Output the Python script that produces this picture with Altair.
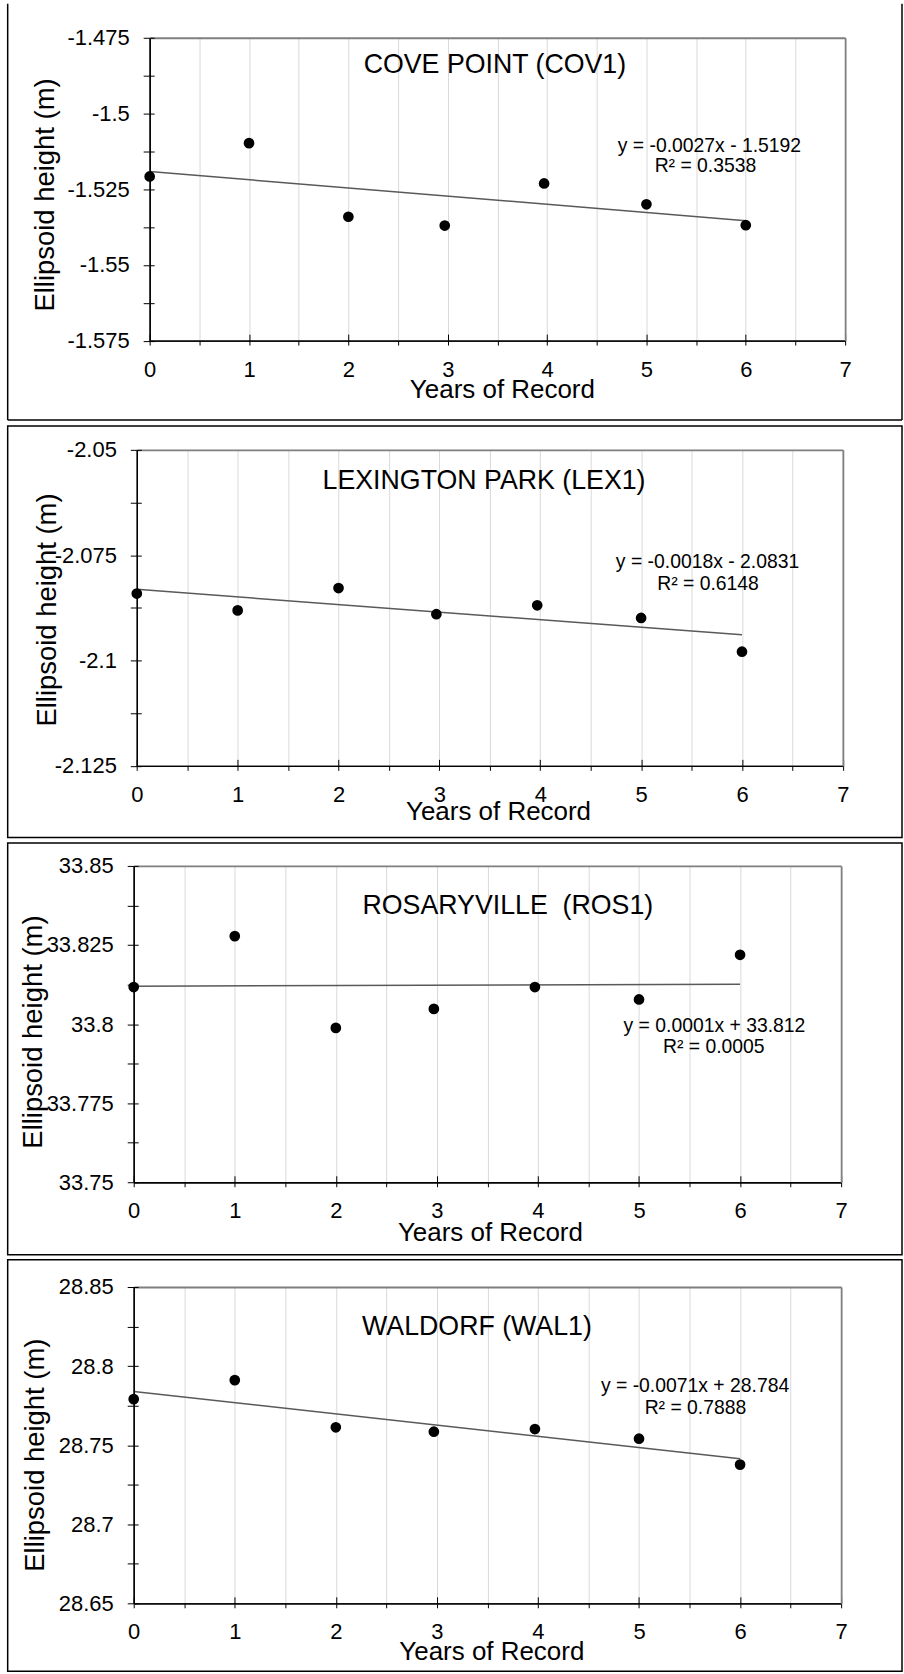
import altair as alt
import pandas as pd

# ---------------- data ----------------
years = [0, 1, 2, 2.97, 3.97, 5, 6]
station_names = ["COVE POINT (COV1)", "LEXINGTON PARK (LEX1)",
                 "ROSARYVILLE\u00a0 (ROS1)", "WALDORF (WAL1)"]
cov1_height = [-1.5208, -1.5098, -1.5341, -1.5370, -1.5231, -1.5300, -1.5369]
lex1_height = [-2.0841, -2.0881, -2.0828, -2.0890, -2.0869, -2.0899, -2.0979]
ros1_height = [33.8117, 33.8278, 33.7988, 33.8048, 33.8117, 33.8078, 33.8219]
wal1_height = [28.7791, 28.7911, 28.7613, 28.7585, 28.7602, 28.7541, 28.7377]
heights = [cov1_height, lex1_height, ros1_height, wal1_height]

trend_slope = [-0.0027, -0.0018, 0.0001, -0.0071]
trend_intercept = [-1.5192, -2.0831, 33.812, 28.784]
trend_x_range = [0, 6]
equation_text = ["y = -0.0027x - 1.5192", "y = -0.0018x - 2.0831",
                 "y = 0.0001x + 33.812", "y = -0.0071x + 28.784"]
r2_text = ["R\u00b2 = 0.3538", "R\u00b2 = 0.6148", "R\u00b2 = 0.0005", "R\u00b2 = 0.7888"]

y_axis_min = [-1.575, -2.125, 33.75, 28.65]
y_axis_max = [-1.475, -2.05, 33.85, 28.85]
y_major_step = [0.025, 0.025, 0.025, 0.05]
x_axis_max = 7

x_title = "Years of Record"
y_title = "Ellipsoid height (m)"

# ---------------- layout (pixels) ----------------
# All panel groups share the same origin (page x = ORIGIN); each plot area
# starts `inset` px to the right of it.
ORIGIN = 133.0
FRAME_L, FRAME_R = 6.7, 903.0          # page x of the frame borders
layout = [
    dict(inset=16.0, right=846.0, h=303.5, fy=(-34.0, 383.0), open_top=True,
         title=(346, 35.6), eq=(561, 114.6), r2=(557, 135.0),
         ytitle=(-104, 157), xtitle=(353, 57.3)),
    dict(inset=3.1, right=843.7, h=316.7, fy=(-23.8, 388.4), open_top=False,
         title=(348, 39.4), eq=(572, 118.4), r2=(572.5, 140.0),
         ytitle=(-89, 160), xtitle=(362, 53.3)),
    dict(inset=0.0, right=842.0, h=317, fy=(-23.1, 389.7), open_top=False,
         title=(375, 48.0), eq=(582, 166.4), r2=(581.4, 187.4),
         ytitle=(-100, 166), xtitle=(357, 58.4)),
    dict(inset=0.0, right=842.0, h=317, fy=(-27.2, 385.0), open_top=False,
         title=(344, 48.3), eq=(562.6, 105.6), r2=(563, 127.3),
         ytitle=(-98, 168), xtitle=(358.4, 56.0)),
]

FONT = "Liberation Sans, Arial, Helvetica, sans-serif"
MINUS = "\u2212"
BORDER_GRAY = "#7f7f7f"
one_row = alt.Data(values=[{"k": 0}])


def text_layer(txt, pos, size):
    return alt.Chart(one_row).mark_text(
        font=FONT, fontSize=size, align="center", baseline="alphabetic", color="black"
    ).encode(x=alt.value(pos[0]), y=alt.value(pos[1]), text=alt.value(txt))


def panel(i):
    L = layout[i]
    inset = L["inset"]
    gw = L["right"] - ORIGIN
    lo, hi, step = y_axis_min[i], y_axis_max[i], y_major_step[i]
    n = int(round((hi - lo) / (step / 2)))
    y_vals = [round(lo + k * step / 2, 6) for k in range(n + 1)]
    x_vals = [k * 0.5 for k in range(2 * x_axis_max + 1)]
    x_major = list(range(x_axis_max + 1))

    pts = pd.DataFrame({"year": years, "height": heights[i]})
    trend = pd.DataFrame({
        "year": trend_x_range,
        "height": [trend_intercept[i] + trend_slope[i] * x for x in trend_x_range],
    })
    xs = alt.Scale(domain=[0, x_axis_max], range=[inset, gw], nice=False, zero=False)
    ys = alt.Scale(domain=[lo, hi], nice=False, zero=False)

    y_label_expr = (f"abs(datum.value/{step} - round(datum.value/{step})) < 0.001 ? "
                    f"replace(format(datum.value, '.6~g'), '{MINUS}', '-') : ''")

    x_axis = alt.Axis(
        orient="bottom", values=x_vals,
        labelExpr="datum.value % 1 == 0 ? format(datum.value, 'd') : ''",
        grid=True, gridColor="#d9d9d9", gridWidth=1,
        tickSize=4.5, tickColor="black", tickWidth=1,
        domainColor="black", domainWidth=1.3,
        labelFont=FONT, labelFontSize=22, labelColor="black",
        labelBaseline="alphabetic", labelPadding=31,
        labelOverlap=False, labelFlush=False,
        title=x_title, titleFont=FONT, titleFontSize=26, titleFontWeight="normal",
        titleColor="black", titleX=L["xtitle"][0] + inset, titleY=L["xtitle"][1],
        titleAlign="center", titleBaseline="alphabetic",
    )
    y_axis = alt.Axis(
        orient="left", offset=-inset, values=y_vals, labelExpr=y_label_expr,
        grid=False, tickSize=6.5, tickColor="black", tickWidth=1,
        domainColor="black", domainWidth=1.3,
        labelFont=FONT, labelFontSize=22, labelColor="black",
        labelPadding=14, labelBaseline="middle", labelAlign="right",
        labelOverlap=False, labelFlush=False,
        title=y_title, titleFont=FONT, titleFontSize=27.5, titleFontWeight="normal",
        titleColor="black", titleAngle=270,
        titleX=L["ytitle"][0], titleY=L["ytitle"][1],
        titleAlign="center", titleBaseline="middle",
    )

    trend_line = alt.Chart(trend).mark_line(color="#595959", strokeWidth=1.5).encode(
        x=alt.X("year:Q", scale=xs, axis=None),
        y=alt.Y("height:Q", scale=ys, axis=None),
    )
    points = alt.Chart(pts).mark_circle(size=115, color="black", opacity=1).encode(
        x=alt.X("year:Q", scale=xs, axis=x_axis),
        y=alt.Y("height:Q", scale=ys, axis=y_axis),
    )
    # inner halves of the crossing tick marks (and black axis lines on top)
    inner_ticks = alt.Chart(pts).mark_circle(opacity=0).encode(
        x=alt.X("year:Q", scale=xs, axis=alt.Axis(
            orient="bottom", values=x_major, labels=False, grid=False,
            domainColor="black", domainWidth=1.3,
            tickSize={"expr": "-6.5"}, tickColor="black", tickWidth=1,
            title=None, zindex=1)),
        y=alt.Y("height:Q", scale=ys, axis=alt.Axis(
            orient="left", offset=-inset, values=y_vals, labels=False, grid=False,
            domainColor="black", domainWidth=1.3,
            tickSize={"expr": "-4.5"}, tickColor="black", tickWidth=1,
            title=None, zindex=1)),
    )
    # grey top and right borders of the plot area
    border = alt.Chart(pts).mark_circle(opacity=0).encode(
        x=alt.X("year:Q", scale=xs, axis=alt.Axis(
            orient="top", ticks=False, labels=False, grid=False,
            domainColor=BORDER_GRAY, domainWidth=1.8, title=None, zindex=1)),
        y=alt.Y("height:Q", scale=ys, axis=alt.Axis(
            orient="right", ticks=False, labels=False, grid=False,
            domainColor=BORDER_GRAY, domainWidth=1.8, title=None, zindex=1)),
    )

    fx0, fx1 = FRAME_L - ORIGIN, FRAME_R - ORIGIN
    fy0, fy1 = L["fy"]
    if L["open_top"]:
        fr = alt.Chart(one_row).mark_rule(color="black", strokeWidth=1.5)
        frame = [
            fr.encode(x=alt.value(fx0), y=alt.value(fy0), y2=alt.value(fy1)),
            fr.encode(x=alt.value(fx1), y=alt.value(fy0), y2=alt.value(fy1)),
            fr.encode(x=alt.value(fx0), x2=alt.value(fx1), y=alt.value(fy1)),
        ]
    else:
        frame = [alt.Chart(one_row).mark_rect(
            fillOpacity=0, stroke="black", strokeWidth=1.5
        ).encode(x=alt.value(fx0), x2=alt.value(fx1), y=alt.value(fy0), y2=alt.value(fy1))]

    texts = [
        text_layer(station_names[i], (L["title"][0] + inset, L["title"][1]), 26.8),
        text_layer(equation_text[i], (L["eq"][0] + inset, L["eq"][1]), 19.4),
        text_layer(r2_text[i], (L["r2"][0] + inset, L["r2"][1]), 19.4),
    ]

    return alt.layer(*frame, trend_line, points, inner_ticks, border, *texts).resolve_axis(
        x="independent", y="independent"
    ).properties(width=gw, height=L["h"])


chart = alt.vconcat(*[panel(i) for i in range(4)], spacing=2).properties(
    padding={"left": 6, "right": 0, "top": 0, "bottom": 0}
).configure_view(stroke="transparent")

chart.save("out.html", embed_options={"renderer": "svg", "actions": False})
